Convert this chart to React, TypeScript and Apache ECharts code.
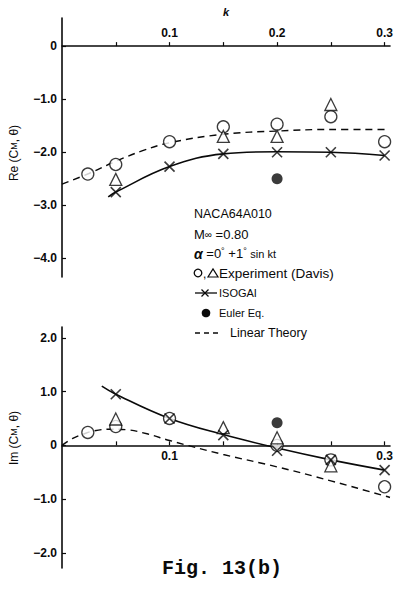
import React, { useEffect, useRef } from "react";
import * as echarts from "echarts";

// ---- tick labels ----
const reTicks = [-4, -3, -2, -1, 0];
const imTicks = [-2, -1, 0, 1, 2];
const kTopLabels = [0.1, 0.2, 0.3];
const kBottomLabels = [0.1, 0.3];
const kTickMarks = [0.05, 0.1, 0.15, 0.2, 0.25, 0.3];

// ---- Re(CM, theta) ----
const kExpCircleRe = [0.024, 0.05, 0.1, 0.15, 0.2, 0.25, 0.3];
const reExpCircle = [-2.41, -2.23, -1.8, -1.52, -1.47, -1.33, -1.8];
const kExpTriRe = [0.05, 0.15, 0.2, 0.25];
const reExpTri = [-2.51, -1.7, -1.7, -1.1];
const kIsogai = [0.05, 0.1, 0.15, 0.2, 0.25, 0.3];
const reIsogai = [-2.75, -2.27, -2.03, -2.0, -2.0, -2.06];
const kIsogaiCurveRe = [0.043, 0.05, 0.1, 0.15, 0.2, 0.25, 0.3];
const reIsogaiCurve = [-2.84, -2.75, -2.27, -2.03, -1.99, -2.0, -2.06];
const kLinRe = [0, 0.025, 0.05, 0.075, 0.1, 0.15, 0.2, 0.25, 0.3];
const reLin = [-2.6, -2.4, -2.17, -1.97, -1.82, -1.66, -1.6, -1.57, -1.57];
const kEuler = [0.2];
const reEuler = [-2.5];

// ---- Im(CM, theta) ----
const kExpCircleIm = [0.024, 0.05, 0.1, 0.2, 0.25, 0.3];
const imExpCircle = [0.24, 0.35, 0.5, 0.0, -0.27, -0.77];
const kExpTriIm = [0.05, 0.15, 0.2, 0.25];
const imExpTri = [0.49, 0.33, 0.14, -0.38];
const imIsogai = [0.95, 0.5, 0.19, -0.1, -0.27, -0.46];
const kIsogaiCurveIm = [0.037, 0.05, 0.1, 0.15, 0.2, 0.25, 0.3];
const imIsogaiCurve = [1.1, 0.95, 0.5, 0.2, -0.05, -0.27, -0.46];
const kLinIm = [0, 0.01, 0.02, 0.03, 0.045, 0.06, 0.08, 0.1, 0.15, 0.2, 0.25, 0.3, 0.305];
const imLin = [0, 0.13, 0.21, 0.27, 0.3, 0.29, 0.21, 0.09, -0.17, -0.4, -0.66, -0.94, -0.97];
const imEuler = [0.42];

// ---- axis ranges ----
const reRange = [-4.35, 0.53];
const imRange = [-2.28, 2.2];
const kRange = [0, 0.305];

const INK = "#0a0a0a";
const FONT = '"Liberation Sans", Arial, sans-serif';
const CROSS = "path://M0,0L10,10M0,10L10,0";

const GRID_TOP = { left: 62, top: 18, width: 328, height: 259 };
const GRID_BOT = { left: 62, top: 327, width: 328, height: 241 };

const zip = (xs: number[], ys: number[]) => xs.map((x, i) => [x, ys[i]]);

const fmtY = (v: number) =>
  Math.abs(v) < 1e-9 ? "0" : (v < 0 ? "\u2212" : "") + Math.abs(v).toFixed(1);

// pixel offset that puts the k axis on the zero line of its grid
const zeroOffset = (g: any, range: number[], pos: "top" | "bottom") => {
  const zeroPx = (range[1] / (range[1] - range[0])) * g.height;
  return pos === "top" ? -zeroPx : -(g.height - zeroPx);
};

function xAxisCfg(grid: number, pos: "top" | "bottom", labels: number[], offset: number) {
  return {
    type: "value",
    gridIndex: grid,
    min: kRange[0],
    max: kRange[1],
    position: pos,
    offset,
    axisLine: { onZero: false, lineStyle: { color: INK, width: 1.6 } },
    axisTick: {
      show: true,
      inside: pos === "bottom",
      length: 4,
      customValues: kTickMarks,
      lineStyle: { color: INK, width: 1.2 },
    },
    axisLabel: {
      customValues: labels,
      formatter: (v: number) => v.toFixed(1),
      color: INK,
      fontSize: 12,
      fontWeight: "bold",
      fontFamily: FONT,
      margin: pos === "top" ? 7 : 5,
    },
    splitLine: { show: false },
  };
}

function yAxisCfg(grid: number, range: number[], ticks: number[]) {
  return {
    type: "value",
    gridIndex: grid,
    min: range[0],
    max: range[1],
    position: "left",
    axisLine: { onZero: false, lineStyle: { color: INK, width: 1.6 } },
    axisTick: {
      show: true,
      inside: true,
      length: 4,
      customValues: ticks,
      lineStyle: { color: INK, width: 1.2 },
    },
    axisLabel: {
      customValues: ticks,
      formatter: fmtY,
      color: INK,
      fontSize: 12,
      fontWeight: "bold",
      fontFamily: FONT,
      margin: 5,
    },
    splitLine: { show: false },
  };
}

function seriesFor(
  xi: number,
  lin: number[][],
  curve: number[][],
  circ: number[][],
  tri: number[][],
  cross: number[][],
  euler: number[][]
) {
  const base = { xAxisIndex: xi, yAxisIndex: xi };
  return [
    {
      ...base,
      type: "line",
      data: lin,
      smooth: 0.4,
      symbol: "none",
      lineStyle: { color: INK, width: 1.4, type: [7, 5] },
      z: 2,
    },
    {
      ...base,
      type: "line",
      data: curve,
      smooth: 0.4,
      symbol: "none",
      lineStyle: { color: INK, width: 1.6 },
      z: 2,
    },
    {
      ...base,
      type: "scatter",
      data: circ,
      symbol: "circle",
      symbolSize: 12,
      itemStyle: { color: "#fff", borderColor: INK, borderWidth: 1.3 },
      z: 3,
    },
    {
      ...base,
      type: "scatter",
      data: tri,
      symbol: "triangle",
      symbolSize: 12,
      itemStyle: { color: "#fff", borderColor: INK, borderWidth: 1.3 },
      z: 3,
    },
    {
      ...base,
      type: "scatter",
      data: cross,
      symbol: CROSS,
      symbolSize: 10,
      itemStyle: { color: "transparent", borderColor: INK, borderWidth: 1.6 },
      z: 4,
    },
    {
      ...base,
      type: "scatter",
      data: euler,
      symbol: "circle",
      symbolSize: 11,
      itemStyle: { color: INK },
      z: 4,
    },
  ];
}

const txt = (x: number, y: number, text: string, extra: any = {}) => ({
  type: "text",
  x,
  y,
  style: {
    text,
    fill: INK,
    fontSize: 12,
    fontFamily: FONT,
    verticalAlign: "middle",
    ...extra,
  },
});

export default function App() {
  const ref = useRef<HTMLDivElement>(null);
  useEffect(() => {
    if (!ref.current) return;
    document.body.style.margin = "0";
    const chart = echarts.init(ref.current, null, { renderer: "svg" });
    const option: any = {
      animation: false,
      backgroundColor: "#fff",
      grid: [
        { ...GRID_TOP, outerBoundsMode: "none", containLabel: false },
        { ...GRID_BOT, outerBoundsMode: "none", containLabel: false },
      ],
      xAxis: [
        xAxisCfg(0, "top", kTopLabels, zeroOffset(GRID_TOP, reRange, "top")),
        xAxisCfg(1, "bottom", kBottomLabels, zeroOffset(GRID_BOT, imRange, "bottom")),
      ],
      yAxis: [yAxisCfg(0, reRange, reTicks), yAxisCfg(1, imRange, imTicks)],
      series: [
        ...seriesFor(
          0,
          zip(kLinRe, reLin),
          zip(kIsogaiCurveRe, reIsogaiCurve),
          zip(kExpCircleRe, reExpCircle),
          zip(kExpTriRe, reExpTri),
          zip(kIsogai, reIsogai),
          zip(kEuler, reEuler)
        ),
        ...seriesFor(
          1,
          zip(kLinIm, imLin),
          zip(kIsogaiCurveIm, imIsogaiCurve),
          zip(kExpCircleIm, imExpCircle),
          zip(kExpTriIm, imExpTri),
          zip(kIsogai, imIsogai),
          zip(kEuler, imEuler)
        ),
      ],
      graphic: [
        txt(226, 12, "k", { align: "center", fontStyle: "italic", fontWeight: "bold", fontSize: 11 }),
        {
          type: "text",
          x: 14,
          y: 153,
          rotation: Math.PI / 2,
          style: {
            text: "Re (C{s|M}, \u03b8)",
            fill: INK,
            fontSize: 12,
            fontFamily: FONT,
            align: "center",
            verticalAlign: "middle",
            rich: { s: { fontSize: 9, fontFamily: FONT, fill: INK } },
          },
        },
        {
          type: "text",
          x: 14,
          y: 438,
          rotation: Math.PI / 2,
          style: {
            text: "Im (C{s|M}, \u03b8)",
            fill: INK,
            fontSize: 12,
            fontFamily: FONT,
            align: "center",
            verticalAlign: "middle",
            rich: { s: { fontSize: 9, fontFamily: FONT, fill: INK } },
          },
        },
        // legend block
        txt(194, 214, "NACA64A010", { fontSize: 12.5 }),
        txt(194, 234, "M{s|\u221e} =0.80", {
          fontSize: 13,
          rich: { s: { fontSize: 10, fontFamily: FONT, fill: INK } },
        }),
        txt(194, 253.5, "{a|\u03b1} =0{d|\u00b0} +1{d|\u00b0} {s|sin kt}", {
          fontSize: 13,
          rich: {
            a: { fontSize: 14, fontWeight: "bold", fontStyle: "italic", fontFamily: FONT, fill: INK },
            d: { fontSize: 9, fontFamily: FONT, fill: INK, verticalAlign: "top" },
            s: { fontSize: 11, fontFamily: FONT, fill: INK },
          },
        }),
        {
          type: "circle",
          shape: { cx: 198, cy: 273, r: 3.8 },
          style: { fill: "#fff", stroke: INK, lineWidth: 1.3 },
        },
        txt(203, 274, ","),
        {
          type: "polygon",
          shape: { points: [[208, 277], [218, 277], [213, 269]] },
          style: { fill: "#fff", stroke: INK, lineWidth: 1.2 },
        },
        txt(219, 273, "Experiment (Davis)", { fontSize: 13.5 }),
        {
          type: "line",
          shape: { x1: 195, y1: 293, x2: 217, y2: 293 },
          style: { stroke: INK, lineWidth: 1.3 },
        },
        {
          type: "line",
          shape: { x1: 201.5, y1: 289.5, x2: 208.5, y2: 296.5 },
          style: { stroke: INK, lineWidth: 1.3 },
        },
        {
          type: "line",
          shape: { x1: 201.5, y1: 296.5, x2: 208.5, y2: 289.5 },
          style: { stroke: INK, lineWidth: 1.3 },
        },
        txt(219, 293, "ISOGAI", { fontSize: 11 }),
        {
          type: "circle",
          shape: { cx: 206, cy: 313, r: 4.3 },
          style: { fill: INK },
        },
        txt(219, 313, "Euler Eq.", { fontSize: 11 }),
        {
          type: "line",
          shape: { x1: 195, y1: 333, x2: 222, y2: 333 },
          style: { stroke: INK, lineWidth: 1.3, lineDash: [5, 4] },
        },
        txt(230, 333, "Linear Theory", { fontSize: 12.5 }),
        // caption
        txt(222, 568, "Fig. 13(b)", {
          align: "center",
          fontFamily: '"Liberation Mono", "Courier New", monospace',
          fontSize: 20,
          fontWeight: "bold",
          fill: INK,
        }),
      ],
    };
    chart.setOption(option);
    return () => chart.dispose();
  }, []);
  return (
    <div
      ref={ref}
      style={{ width: 397, height: 590, position: "absolute", left: 0, top: 0 }}
    />
  );
}
